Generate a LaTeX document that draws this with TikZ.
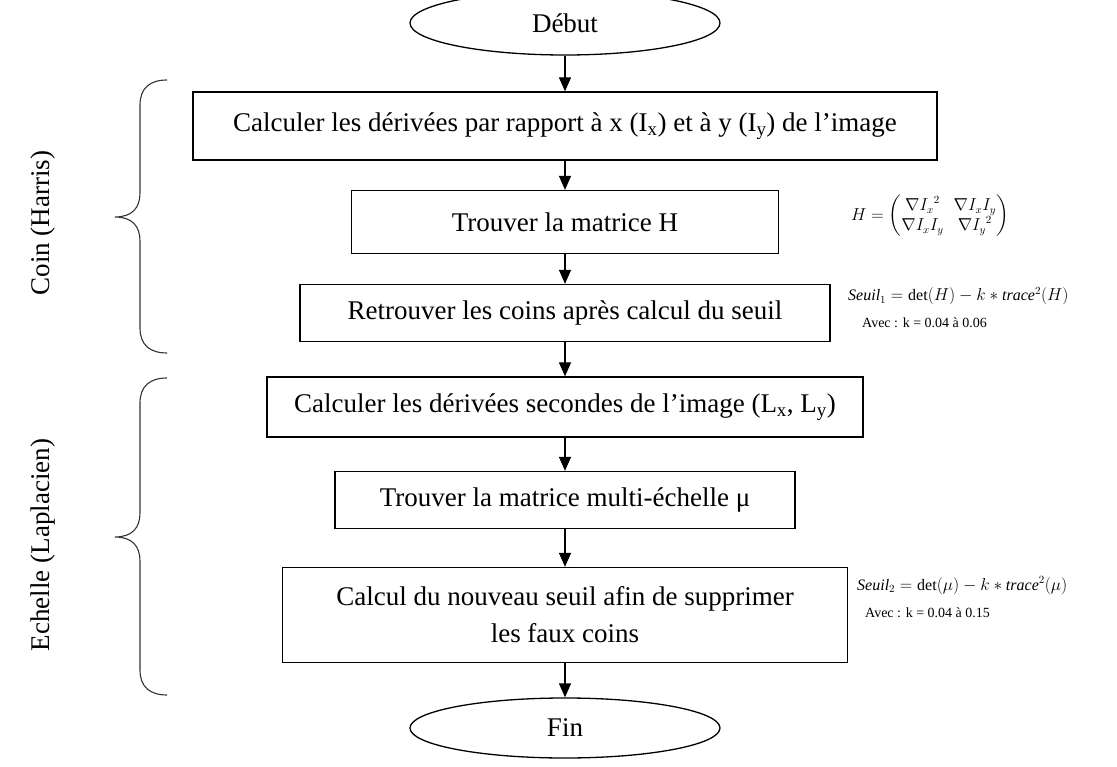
\documentclass[tikz,border=0pt]{standalone}
\usepackage{amsmath}
\usepackage{fontspec}
\setmainfont{Liberation Serif}
\usetikzlibrary{shapes.geometric,arrows.meta}
\newcommand\mainfs{\fontsize{27}{37}\selectfont}
\begin{document}
\begin{tikzpicture}[x=1pt,y=-1pt,
  lw/.style={line width=1.3pt},
  box/.style={draw,lw,inner sep=0pt,align=center,font=\mainfs},
  term/.style={draw,lw,ellipse,inner sep=0pt,minimum width=310pt,font=\mainfs},
  arr/.style={lw,-{Triangle[length=14pt,width=12pt]}},
  brace/.style={line width=1.1pt,draw=black!80},
  side/.style={font=\mainfs,rotate=90},
  formula/.style={inner sep=0pt}]
\useasboundingbox[fill=white] (0,0) rectangle (1117,767);

\node[term,minimum height=64pt] (deb) at (565,23) {Début};
\node[box,minimum width=744pt,minimum height=68pt] (b1) at (565,126) {Calculer les dérivées par rapport à x (I\textsubscript{x}) et à y (I\textsubscript{y}) de l’image};
\node[box,minimum width=427pt,minimum height=63pt] (b2) at (565,222) {Trouver la matrice H};
\node[box,minimum width=530pt,minimum height=57pt] (b3) at (565,313) {Retrouver les coins après calcul du seuil};
\node[box,minimum width=596pt,minimum height=60pt] (b4) at (565,407) {Calculer les dérivées secondes de l’image (L\textsubscript{x}, L\textsubscript{y})};
\node[box,minimum width=460pt,minimum height=57pt] (b5) at (565,500) {Trouver la matrice multi-échelle μ};
\node[box,minimum width=565pt,minimum height=95pt] (b6) at (565,615) {Calcul du nouveau seuil afin de supprimer\\les faux coins};
\node[term,minimum height=60pt] (fin) at (565,728) {Fin};

\draw[arr] (deb) -- (b1);
\draw[arr] (b1) -- (b2);
\draw[arr] (b2) -- (b3);
\draw[arr] (b3) -- (b4);
\draw[arr] (b4) -- (b5);
\draw[arr] (b5) -- (b6);
\draw[arr] (b6) -- (fin);

% braces
\draw[brace] (167,80) .. controls (150,80) and (140,88) .. (140,105) -- (140,193)
  .. controls (140,208) and (132,217) .. (115,217)
  .. controls (132,217) and (140,226) .. (140,241) -- (140,328)
  .. controls (140,345) and (150,353) .. (167,353);
\draw[brace] (167,378) .. controls (150,378) and (140,386) .. (140,403) -- (140,513)
  .. controls (140,528) and (132,537) .. (115,537)
  .. controls (132,537) and (140,546) .. (140,561) -- (140,670)
  .. controls (140,687) and (150,695) .. (167,695);
\node[side] (coin) at (43,223) {Coin (Harris)};
\node[side] (ech) at (43,545) {Echelle (Laplacien)};

% formulas
\node[formula,font=\fontsize{16}{18}\selectfont] (hm) at (930,216)
  {$H=\begin{pmatrix}\nabla {I_x}^2 & \nabla I_x I_y\\ \nabla I_x I_y & \nabla {I_y}^2\end{pmatrix}$};
\node[formula,anchor=base west,font=\fontsize{16}{18}\selectfont] (s1) at (848,301)
  {$\mathit{Seuil}_1=\det(H)-k\ast \mathit{trace}^2(H)$};
\node[formula,anchor=west,font=\fontsize{14}{16}\selectfont] (a1) at (862,323)
  {Avec : k = 0.04 à 0.06};
\node[formula,anchor=base west,font=\fontsize{16}{18}\selectfont] (s2) at (857,590)
  {$\mathit{Seuil}_2=\det(\mu)-k\ast \mathit{trace}^2(\mu)$};
\node[formula,anchor=west,font=\fontsize{14}{16}\selectfont] (a2) at (865,613)
  {Avec : k = 0.04 à 0.15};
\end{tikzpicture}
\end{document}
